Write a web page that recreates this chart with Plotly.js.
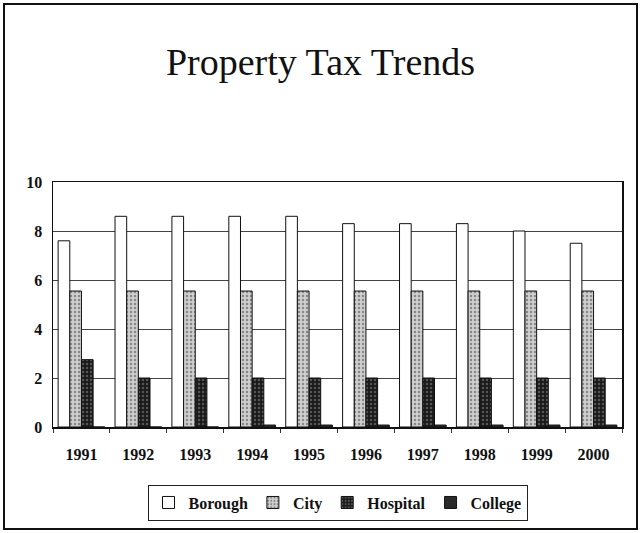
<!DOCTYPE html>
<html>
<head>
<meta charset="utf-8">
<script src="https://cdn.plot.ly/plotly-3.0.1.min.js"></script>
<style>
  html, body { margin: 0; padding: 0; background: #fff; }
  #wrap { position: relative; width: 641px; height: 533px; }
  #chart { width: 641px; height: 533px; }
  #frame { position: absolute; left: 3px; top: 3px; width: 631px; height: 523px; border: 2px solid #111; pointer-events: none; }
</style>
</head>
<body>
<div id="wrap">
  <div id="chart"></div>
  <div id="frame"></div>
</div>
<script>
const years = ['1991','1992','1993','1994','1995','1996','1997','1998','1999','2000'];
const borough  = [7.6, 8.6, 8.6, 8.6, 8.6, 8.3, 8.3, 8.3, 8.0, 7.5];
const city     = [5.55, 5.55, 5.55, 5.55, 5.55, 5.55, 5.55, 5.55, 5.55, 5.55];
const hospital = [2.75, 2.0, 2.0, 2.0, 2.0, 2.0, 2.0, 2.0, 2.0, 2.0];
const college  = [0, 0, 0, 0.08, 0.08, 0.08, 0.08, 0.08, 0.08, 0.08];
const yTicks = [0, 2, 4, 6, 8, 10];

const serif = 'Liberation Serif, Times New Roman, serif';
function series(name, vals, fill, pattern) {
  const m = { color: fill, line: { color: '#111', width: 1 } };
  if (pattern) m.pattern = pattern;
  return { type: 'bar', name: name, x: years, y: vals, marker: m };
}
const data = [
  series('Borough', borough, '#ffffff'),
  series('City', city, '#c4c4c4', { shape: '.', fgcolor: '#888', bgcolor: '#cfcfcf', size: 4, solidity: 0.3 }),
  series('Hospital', hospital, '#1e1e1e', { shape: '.', fgcolor: '#555', bgcolor: '#1a1a1a', size: 4, solidity: 0.3 }),
  series('College', college, '#2a2a2a')
];

const layout = {
  width: 641, height: 533,
  paper_bgcolor: '#fff', plot_bgcolor: '#fff',
  margin: { l: 53, r: 19, t: 182, b: 101 },
  title: { text: 'Property Tax Trends', font: { family: serif, size: 38, color: '#111' }, x: 0.5, xanchor: 'center', y: 0.885, yanchor: 'middle' },
  barmode: 'group', bargap: 0.18, bargroupgap: 0,
  showlegend: true,
  legend: {
    orientation: 'h', x: 0.5, xanchor: 'center', y: -0.235, yanchor: 'top',
    font: { family: serif, size: 16, color: '#111', weight: 'bold' },
    bordercolor: '#222', borderwidth: 1, bgcolor: '#fff',
    itemwidth: 30, traceorder: 'normal', tracegroupgap: 0
  },
  xaxis: {
    type: 'category', showline: true, linecolor: '#111', linewidth: 1.5, mirror: true,
    ticks: 'outside', tickson: 'boundaries', ticklen: 4, tickcolor: '#333',
    tickfont: { family: serif, size: 16, color: '#111', weight: 'bold' },
    ticklabelstandoff: 12, showgrid: false
  },
  yaxis: {
    range: [0, 10], tickvals: yTicks, ticktext: yTicks.map(String),
    showline: true, linecolor: '#111', linewidth: 1.5, mirror: true,
    showgrid: true, gridcolor: '#444', gridwidth: 1, zeroline: false,
    ticks: '', tickfont: { family: serif, size: 16, color: '#111', weight: 'bold' },
    ticklabelstandoff: 6
  }
};
Plotly.newPlot('chart', data, layout, { displayModeBar: false, staticPlot: true });
</script>
</body>
</html>
